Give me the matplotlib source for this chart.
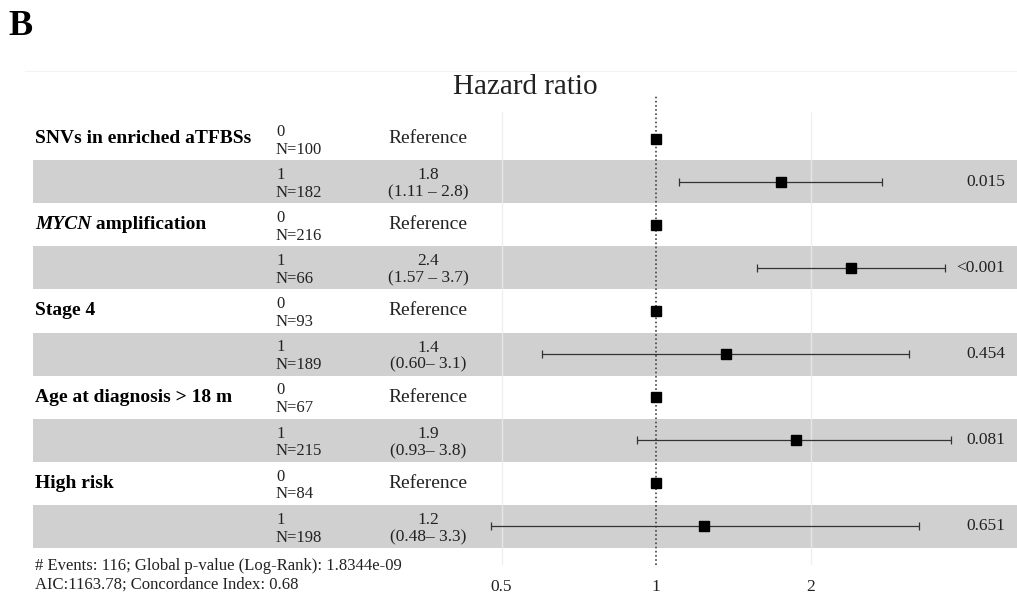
import numpy as np
import matplotlib
matplotlib.use("Agg")
import matplotlib.pyplot as plt
from matplotlib.lines import Line2D

# ---------------- data ----------------
variables = ["SNVs in enriched aTFBSs", "MYCN amplification", "Stage 4",
             "Age at diagnosis > 18 m", "High risk"]
levels = ["0", "1", "0", "1", "0", "1", "0", "1", "0", "1"]
n_obs = [100, 182, 216, 66, 93, 189, 67, 215, 84, 198]
hr = [1.0, 1.75, 1.0, 2.40, 1.0, 1.37, 1.0, 1.87, 1.0, 1.24]
ci_low = [np.nan, 1.11, np.nan, 1.57, np.nan, 0.60, np.nan, 0.92, np.nan, 0.477]
ci_high = [np.nan, 2.76, np.nan, 3.66, np.nan, 3.11, np.nan, 3.76, np.nan, 3.25]
hr_text = ["Reference", "1.8", "Reference", "2.4", "Reference", "1.4",
           "Reference", "1.9", "Reference", "1.2"]
ci_text = ["", "(1.11 – 2.8)", "", "(1.57 – 3.7)", "", "(0.60– 3.1)",
           "", "(0.93– 3.8)", "", "(0.48– 3.3)"]
p_text = ["", "0.015", "", "<0.001", "", "0.454", "", "0.081", "", "0.651"]
x_ticks = [0.5, 1, 2]
x_ticklabels = ["0.5", "1", "2"]
footnote = ["# Events: 116; Global p-value (Log-Rank): 1.8344e-09",
            "AIC:1163.78; Concordance Index: 0.68"]

# ---------------- layout ----------------
W, H = 1017, 595
SERIF = "Liberation Serif"
plt.rcParams["font.family"] = [SERIF, "DejaVu Serif"]

fig = plt.figure(figsize=(W / 100, H / 100), dpi=100)

ax_left, ax_right = 33, 1017
ax_top, ax_bot = 95, 565
ax = fig.add_axes([ax_left / W, 1 - ax_bot / H, (ax_right - ax_left) / W,
                   (ax_bot - ax_top) / H])

px_per_log2 = 154.5
x_one = 656
xmin = 2 ** ((ax_left - x_one) / px_per_log2)
xmax = 2 ** ((ax_right - x_one) / px_per_log2)
ax.set_xscale("log")
ax.set_xlim(xmin, xmax)

row_h = 43.1
table_top = 117
n_rows = len(hr)
y_top = -0.5 - (table_top - ax_top) / row_h
y_bot = n_rows - 0.5 + (ax_bot - (table_top + row_h * n_rows)) / row_h
ax.set_ylim(y_bot, y_top)

for s in ax.spines.values():
    s.set_visible(False)
ax.set_yticks([])
ax.set_xticks(x_ticks)
ax.set_xticklabels(x_ticklabels, fontsize=12.5, color="#222222")
ax.xaxis.set_minor_locator(matplotlib.ticker.NullLocator())
ax.tick_params(axis="x", length=0, pad=10)

rows = np.arange(n_rows)

# gray bands for odd rows
for i in rows:
    if i % 2 == 1:
        ax.axhspan(i - 0.5, i + 0.5, color="#d0d0d0", lw=0, zorder=0)

# faint gridlines
grid_top = -0.5 - (table_top - 112) / row_h
for xv in [0.5, 2]:
    ax.vlines(xv, grid_top, y_bot, color="#ececec", lw=1.0, alpha=0.8, zorder=1)

# reference dotted line
ax.axvline(1, color="#444444", ls=(0, (1, 1.5)), lw=1.2, zorder=2)

# error bars and points
hr_a = np.array(hr)
lo_a = np.array(ci_low)
hi_a = np.array(ci_high)
has_ci = ~np.isnan(lo_a)
ax.errorbar(hr_a[has_ci], rows[has_ci],
            xerr=[hr_a[has_ci] - lo_a[has_ci], hi_a[has_ci] - hr_a[has_ci]],
            fmt="none", ecolor="#333333", elinewidth=0.9, capsize=3,
            capthick=0.9, zorder=3)
ax.plot(hr_a, rows, ls="none", marker="s", ms=7.2, color="black", zorder=4)

# text columns
tx = ax.get_yaxis_transform()  # x in axes fraction, y in data


def fx(px):
    return (px - ax_left) / (ax_right - ax_left)


for k, name in enumerate(variables):
    y = 2 * k
    if name.startswith("MYCN"):
        t = ax.text(fx(35), y, "MYCN", transform=tx, ha="left", va="center",
                    fontsize=14, fontweight="bold", fontstyle="italic")
        ax.annotate(name[4:], xy=(1, 0), xycoords=t, ha="left", va="bottom",
                    fontsize=14, fontweight="bold")
    else:
        ax.text(fx(35), y, name, transform=tx, ha="left", va="center",
                fontsize=14, fontweight="bold")

for i in rows:
    ax.text(fx(276), i + 0.05, f"{levels[i]}\nN={n_obs[i]}", transform=tx,
            ha="left", va="center", fontsize=12, linespacing=1.15,
            color="#222222")
    if ci_text[i]:
        ax.text(fx(428), i + 0.05, f"{hr_text[i]}\n{ci_text[i]}", transform=tx,
                ha="center", va="center", fontsize=12.5, linespacing=1.1,
                color="#222222")
    else:
        ax.text(fx(428), i, hr_text[i], transform=tx, ha="center",
                va="center", fontsize=14, color="#222222")
    if p_text[i]:
        ax.text(fx(1005), i, p_text[i], transform=tx, ha="right",
                va="center", fontsize=12.5, color="#222222")

# title, panel letter, footnote
fig.text(525 / W, 1 - 87 / H, "Hazard ratio", ha="center", va="center",
         fontsize=21, color="#222222")
fig.text(8 / W, 1 - 35 / H, "B", ha="left", va="baseline", fontsize=26,
         fontweight="bold")
fig.add_artist(Line2D([25 / W, 1], [1 - 71 / H, 1 - 71 / H],
                      color="#f3f3f3", lw=0.8))
fig.text(35 / W, 1 - 566 / H, footnote[0], ha="left", va="center",
         fontsize=12, color="#222222")
fig.text(35 / W, 1 - 585 / H, footnote[1], ha="left", va="center",
         fontsize=12, color="#222222")

fig.savefig("out.png", dpi=100)
